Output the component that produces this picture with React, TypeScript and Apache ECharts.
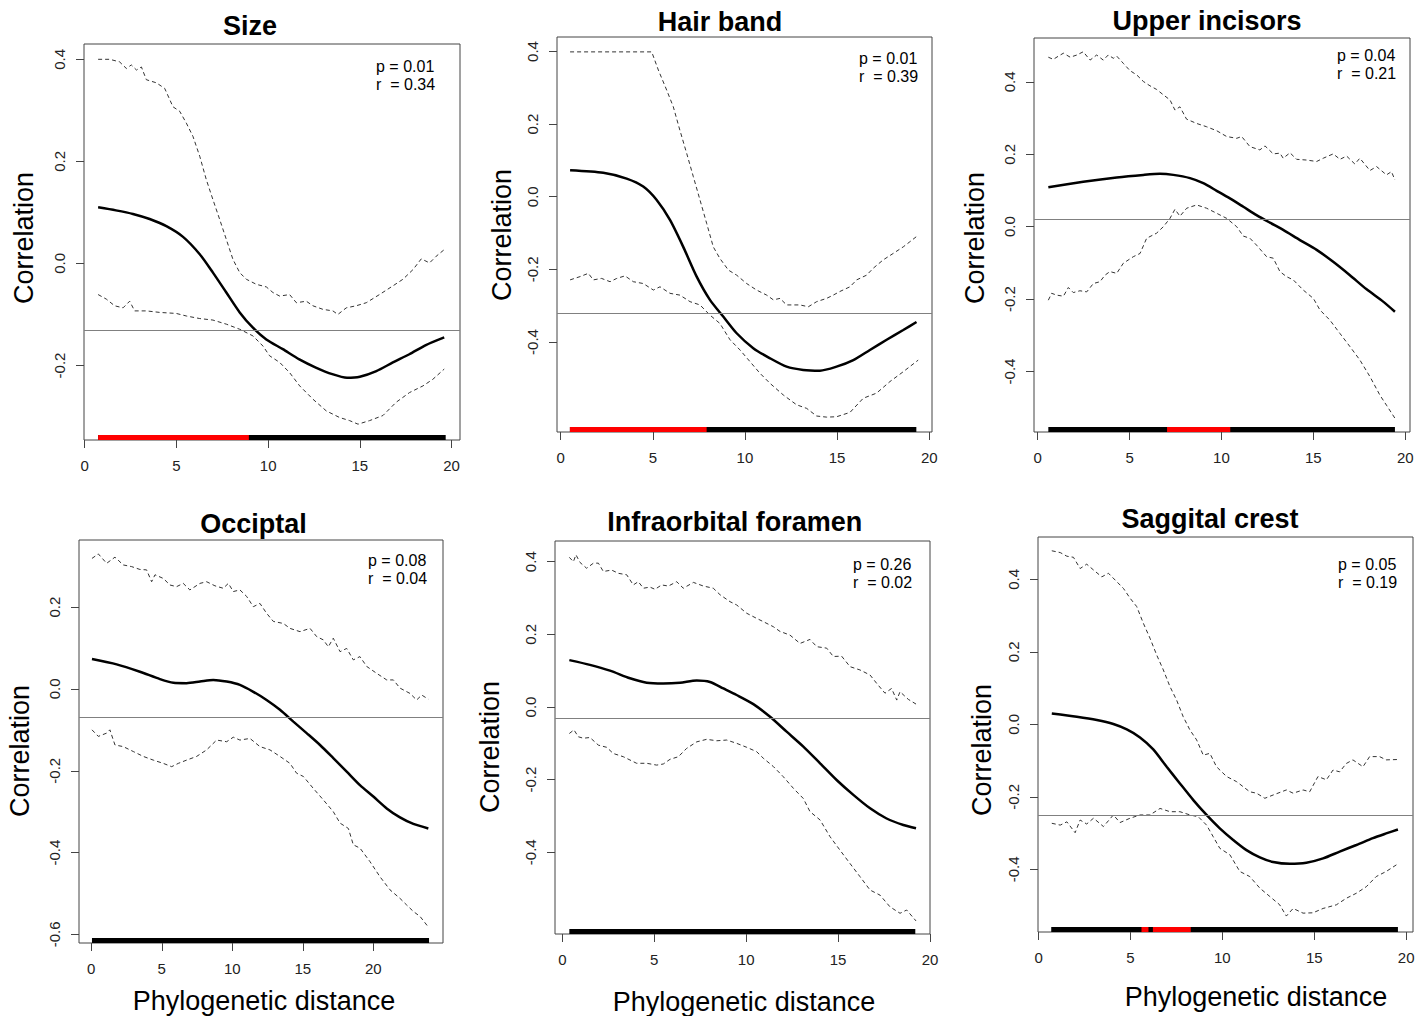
import React, { useEffect, useRef } from "react";
import * as echarts from "echarts";

// ---------------- DATA ----------------
const titles = ["Size", "Hair band", "Upper incisors", "Occiptal", "Infraorbital foramen", "Saggital crest"];
const pValues = ["0.01", "0.01", "0.04", "0.08", "0.26", "0.05"];
const rValues = ["0.34", "0.39", "0.21", "0.04", "0.02", "0.19"];
const refLines = [-0.134, -0.321, 0.02, -0.067, -0.026, -0.247];
const xRanges = [[-0.04, 20.46], [-0.2, 20.15], [-0.2, 20.26], [-0.87, 24.94], [-0.4, 20.0], [-0.03, 20.37]];
const yRanges = [[-0.346, 0.43], [-0.648, 0.44], [-0.567, 0.521], [-0.621, 0.364], [-0.625, 0.457], [-0.573, 0.517]];
const xTicks = [[0, 5, 10, 15, 20], [0, 5, 10, 15, 20], [0, 5, 10, 15, 20], [0, 5, 10, 15, 20], [0, 5, 10, 15, 20], [0, 5, 10, 15, 20]];
const yTicks = [
  [-0.2, 0.0, 0.2, 0.4],
  [-0.4, -0.2, 0.0, 0.2, 0.4],
  [-0.4, -0.2, 0.0, 0.2, 0.4],
  [-0.6, -0.4, -0.2, 0.0, 0.2],
  [-0.4, -0.2, 0.0, 0.2, 0.4],
  [-0.4, -0.2, 0.0, 0.2, 0.4],
];
const distRanges = [[0.73, 19.68], [0.5, 19.3], [0.58, 19.44], [0.05, 23.95], [0.38, 19.2], [0.69, 19.55]];
const sigRanges = [[[0.73, 8.95]], [[0.5, 7.92]], [[7.04, 10.48]], [], [], [[5.6, 5.98], [6.22, 8.28]]];

const sizeMean = [[0.73,0.110],[1.7,0.104],[2.63,0.097],[3.54,0.087],[4.45,0.073],[5.36,0.052],[6.27,0.018],[6.99,-0.018],[7.72,-0.057],[8.45,-0.096],[9.17,-0.126],[9.9,-0.149],[10.8,-0.168],[11.7,-0.188],[12.6,-0.204],[13.5,-0.217],[14.3,-0.224],[15.0,-0.222],[15.9,-0.211],[16.8,-0.194],[17.7,-0.178],[18.6,-0.160],[19.6,-0.145]];
const sizeUpper = [[0.73,0.400],[1.36,0.400],[1.9,0.395],[2.27,0.382],[2.54,0.389],[2.82,0.379],[3.09,0.385],[3.36,0.360],[3.9,0.354],[4.36,0.343],[4.81,0.307],[5.18,0.298],[5.54,0.275],[5.9,0.249],[6.27,0.210],[6.63,0.164],[6.99,0.125],[7.36,0.086],[7.72,0.047],[8.08,0.008],[8.45,-0.018],[8.81,-0.031],[9.36,-0.041],[9.9,-0.046],[10.26,-0.057],[10.63,-0.064],[11.17,-0.061],[11.54,-0.077],[12.08,-0.074],[12.44,-0.083],[12.99,-0.090],[13.53,-0.093],[13.8,-0.100],[14.26,-0.087],[14.8,-0.083],[15.35,-0.077],[16.07,-0.061],[16.8,-0.044],[17.35,-0.031],[17.9,-0.012],[18.35,0.009],[18.8,0.001],[19.16,0.014],[19.6,0.027]];
const sizeLower = [[0.73,-0.061],[1.18,-0.070],[1.63,-0.083],[2.09,-0.087],[2.45,-0.074],[2.72,-0.093],[3.36,-0.093],[4.09,-0.096],[4.99,-0.098],[5.54,-0.103],[6.27,-0.108],[6.99,-0.111],[7.72,-0.119],[8.45,-0.129],[9.17,-0.142],[9.72,-0.162],[10.08,-0.181],[10.63,-0.194],[11.17,-0.214],[11.72,-0.240],[12.44,-0.266],[13.17,-0.289],[13.9,-0.302],[14.44,-0.308],[14.9,-0.315],[15.53,-0.308],[16.26,-0.298],[16.98,-0.272],[17.71,-0.253],[18.44,-0.240],[18.98,-0.227],[19.6,-0.207]];

const hairMean = [[0.51,0.073],[2.31,0.066],[3.58,0.050],[4.48,0.028],[5.21,-0.009],[5.93,-0.064],[6.65,-0.138],[7.38,-0.220],[8.1,-0.284],[8.82,-0.330],[9.55,-0.376],[10.45,-0.417],[11.36,-0.445],[12.26,-0.468],[13.16,-0.477],[14.07,-0.479],[14.97,-0.468],[15.88,-0.450],[16.78,-0.422],[17.69,-0.394],[18.59,-0.367],[19.31,-0.345]];
const hairUpper = [[0.51,0.399],[4.94,0.399],[5.3,0.349],[5.75,0.294],[6.11,0.248],[6.47,0.183],[6.84,0.119],[7.2,0.055],[7.56,-0.009],[7.92,-0.073],[8.28,-0.138],[8.64,-0.170],[9.1,-0.202],[9.55,-0.216],[10.09,-0.239],[10.63,-0.257],[11.18,-0.271],[11.54,-0.284],[11.9,-0.280],[12.26,-0.298],[12.98,-0.298],[13.44,-0.303],[13.89,-0.289],[14.43,-0.280],[14.79,-0.271],[15.15,-0.261],[15.7,-0.248],[16.06,-0.229],[16.6,-0.216],[16.96,-0.197],[17.5,-0.174],[18.05,-0.156],[18.59,-0.138],[18.95,-0.124],[19.4,-0.106]];
const hairLower = [[0.51,-0.229],[1.05,-0.220],[1.5,-0.211],[1.77,-0.229],[2.22,-0.225],[2.68,-0.234],[3.04,-0.225],[3.49,-0.218],[3.94,-0.234],[4.48,-0.239],[5.03,-0.257],[5.39,-0.248],[5.93,-0.266],[6.47,-0.271],[7.02,-0.289],[7.56,-0.298],[8.1,-0.326],[8.64,-0.349],[9.19,-0.394],[9.73,-0.422],[10.27,-0.454],[10.81,-0.486],[11.36,-0.514],[12.08,-0.546],[12.8,-0.573],[13.35,-0.583],[13.89,-0.604],[14.43,-0.607],[14.97,-0.606],[15.7,-0.594],[16.42,-0.555],[17.14,-0.541],[17.87,-0.509],[18.59,-0.482],[19.4,-0.450]];

const incMean = [[0.58,0.109],[2.48,0.124],[4.3,0.136],[5.75,0.143],[6.65,0.146],[7.38,0.143],[8.29,0.134],[9.01,0.120],[9.74,0.099],[10.46,0.078],[11.19,0.055],[11.91,0.032],[12.64,0.011],[13.36,-0.009],[14.27,-0.037],[15.18,-0.064],[16.08,-0.097],[16.99,-0.134],[17.9,-0.173],[18.8,-0.207],[19.44,-0.235]];
const incUpper = [[0.58,0.468],[0.85,0.462],[1.13,0.471],[1.4,0.479],[1.77,0.468],[2.13,0.474],[2.48,0.483],[2.85,0.460],[3.21,0.474],[3.57,0.460],[3.84,0.474],[4.12,0.465],[4.3,0.471],[4.66,0.451],[5.02,0.431],[5.39,0.419],[5.75,0.401],[6.11,0.389],[6.47,0.379],[6.84,0.364],[7.2,0.350],[7.47,0.322],[7.74,0.331],[8.1,0.297],[8.65,0.285],[9.19,0.276],[9.74,0.265],[10.28,0.249],[10.83,0.244],[11.1,0.249],[11.55,0.221],[12.09,0.212],[12.37,0.223],[12.82,0.201],[13.18,0.203],[13.36,0.189],[13.73,0.204],[14.09,0.186],[14.63,0.184],[15.18,0.180],[15.54,0.189],[16.08,0.201],[16.45,0.186],[16.81,0.195],[17.26,0.173],[17.53,0.189],[18.08,0.155],[18.44,0.166],[18.98,0.143],[19.25,0.152],[19.44,0.129]];
const incLower = [[0.58,-0.203],[0.76,-0.184],[1.03,-0.189],[1.4,-0.192],[1.67,-0.168],[1.94,-0.182],[2.3,-0.177],[2.67,-0.180],[3.03,-0.157],[3.39,-0.152],[3.66,-0.134],[3.93,-0.124],[4.3,-0.129],[4.66,-0.101],[5.2,-0.083],[5.57,-0.074],[5.93,-0.032],[6.47,-0.018],[6.84,0.0],[7.2,0.023],[7.47,0.048],[7.74,0.029],[8.11,0.051],[8.65,0.060],[9.19,0.051],[9.74,0.037],[10.28,0.023],[10.83,0.0],[11.19,-0.026],[11.55,-0.032],[11.91,-0.051],[12.46,-0.083],[12.82,-0.087],[13.18,-0.124],[13.54,-0.138],[13.91,-0.147],[14.45,-0.175],[15.0,-0.198],[15.36,-0.230],[15.9,-0.258],[16.45,-0.295],[16.99,-0.331],[17.53,-0.368],[18.08,-0.414],[18.62,-0.465],[18.98,-0.493],[19.44,-0.529]];

const occMean = [[0.05,0.073],[1.8,0.060],[3.45,0.042],[4.87,0.024],[5.82,0.015],[6.76,0.014],[7.71,0.018],[8.65,0.022],[9.6,0.018],[10.54,0.010],[11.49,-0.007],[12.43,-0.027],[13.38,-0.051],[14.33,-0.080],[15.27,-0.108],[16.22,-0.137],[17.16,-0.169],[18.11,-0.202],[19.05,-0.235],[20.0,-0.263],[20.95,-0.292],[21.89,-0.314],[22.84,-0.330],[23.9,-0.341]];
const occUpper = [[0.05,0.319],[0.5,0.330],[1.09,0.307],[1.68,0.322],[2.27,0.303],[2.86,0.299],[3.45,0.292],[3.92,0.291],[4.28,0.262],[4.52,0.279],[5.11,0.270],[5.58,0.254],[6.05,0.250],[6.52,0.258],[6.99,0.242],[7.71,0.258],[8.18,0.262],[8.77,0.252],[9.36,0.246],[9.72,0.258],[10.07,0.238],[10.54,0.242],[11.02,0.226],[11.49,0.201],[11.96,0.209],[12.43,0.185],[12.91,0.165],[13.62,0.160],[14.09,0.148],[14.8,0.140],[15.51,0.148],[15.98,0.128],[16.45,0.120],[16.81,0.103],[17.16,0.124],[17.64,0.091],[18.11,0.099],[18.58,0.071],[19.05,0.079],[19.53,0.055],[20.24,0.038],[20.95,0.022],[21.42,0.022],[21.89,0.002],[22.6,-0.011],[23.07,-0.027],[23.43,-0.015],[23.9,-0.025]];
const occLower = [[0.05,-0.100],[0.5,-0.116],[1.09,-0.108],[1.32,-0.100],[1.68,-0.137],[2.27,-0.141],[2.98,-0.153],[3.69,-0.165],[4.4,-0.174],[5.11,-0.182],[5.7,-0.190],[6.17,-0.182],[6.76,-0.174],[7.47,-0.165],[8.18,-0.149],[8.89,-0.125],[9.6,-0.129],[10.07,-0.118],[10.54,-0.125],[11.25,-0.121],[11.96,-0.141],[12.67,-0.149],[13.38,-0.165],[14.09,-0.182],[14.56,-0.206],[15.04,-0.214],[15.74,-0.243],[16.45,-0.271],[17.16,-0.300],[17.64,-0.328],[18.23,-0.341],[18.58,-0.381],[19.05,-0.389],[19.76,-0.422],[20.47,-0.459],[21.18,-0.491],[21.89,-0.512],[22.36,-0.528],[22.84,-0.544],[23.31,-0.556],[23.9,-0.582]];

const infMean = [[0.38,0.129],[1.5,0.116],[2.59,0.100],[3.68,0.079],[4.59,0.067],[5.49,0.065],[6.4,0.067],[7.31,0.073],[8.03,0.069],[8.76,0.051],[9.48,0.033],[10.39,0.008],[11.3,-0.027],[12.2,-0.068],[13.11,-0.109],[14.02,-0.155],[14.92,-0.201],[15.83,-0.242],[16.74,-0.279],[17.64,-0.307],[18.55,-0.325],[19.24,-0.334]];
const infUpper = [[0.38,0.412],[0.6,0.400],[0.74,0.419],[0.96,0.398],[1.32,0.382],[1.69,0.396],[1.96,0.396],[2.23,0.373],[2.68,0.377],[3.05,0.368],[3.5,0.364],[3.86,0.336],[4.13,0.345],[4.41,0.327],[4.77,0.330],[5.04,0.324],[5.4,0.336],[5.77,0.333],[6.22,0.345],[6.58,0.327],[7.13,0.343],[7.67,0.333],[8.21,0.327],[8.58,0.309],[9.12,0.290],[9.48,0.281],[10.03,0.258],[10.57,0.244],[10.93,0.235],[11.48,0.221],[11.84,0.208],[12.38,0.198],[12.93,0.175],[13.47,0.186],[13.84,0.166],[14.38,0.162],[14.74,0.139],[15.19,0.140],[15.65,0.111],[16.19,0.102],[16.74,0.088],[17.1,0.065],[17.55,0.038],[17.91,0.051],[18.19,0.019],[18.37,0.042],[18.82,0.021],[19.24,0.008]];
const infLower = [[0.38,-0.073],[0.63,-0.063],[0.87,-0.082],[1.14,-0.086],[1.5,-0.084],[1.96,-0.105],[2.41,-0.111],[2.77,-0.128],[3.32,-0.137],[3.68,-0.146],[4.04,-0.155],[4.59,-0.155],[5.13,-0.160],[5.49,-0.157],[5.86,-0.144],[6.31,-0.137],[6.76,-0.114],[7.31,-0.096],[7.85,-0.089],[8.4,-0.093],[8.94,-0.091],[9.48,-0.100],[10.03,-0.111],[10.57,-0.123],[10.93,-0.141],[11.48,-0.164],[12.02,-0.192],[12.57,-0.224],[13.11,-0.252],[13.47,-0.288],[14.02,-0.311],[14.56,-0.357],[15.1,-0.394],[15.65,-0.431],[16.19,-0.467],[16.74,-0.504],[17.28,-0.518],[17.82,-0.550],[18.37,-0.568],[18.73,-0.559],[19.24,-0.589]];

const sagMean = [[0.72,0.030],[2.08,0.021],[3.17,0.012],[4.07,0.001],[4.8,-0.014],[5.52,-0.036],[6.24,-0.069],[6.97,-0.117],[7.69,-0.163],[8.42,-0.209],[9.14,-0.250],[9.86,-0.287],[10.59,-0.319],[11.31,-0.347],[12.04,-0.367],[12.76,-0.380],[13.67,-0.385],[14.57,-0.382],[15.48,-0.370],[16.38,-0.351],[17.29,-0.333],[18.19,-0.314],[18.91,-0.301],[19.55,-0.290]];
const sagUpper = [[0.72,0.479],[1.18,0.474],[1.54,0.464],[1.9,0.461],[2.26,0.430],[2.62,0.442],[2.99,0.426],[3.44,0.407],[3.8,0.417],[4.25,0.394],[4.62,0.375],[4.98,0.348],[5.34,0.325],[5.7,0.279],[6.06,0.238],[6.43,0.191],[6.79,0.150],[7.15,0.104],[7.51,0.067],[7.87,0.021],[8.24,-0.016],[8.6,-0.043],[8.96,-0.085],[9.32,-0.080],[9.68,-0.117],[10.23,-0.144],[10.77,-0.158],[11.13,-0.172],[11.49,-0.186],[11.86,-0.190],[12.31,-0.204],[12.76,-0.195],[13.48,-0.181],[13.85,-0.190],[14.39,-0.181],[14.75,-0.186],[15.2,-0.144],[15.66,-0.153],[16.02,-0.126],[16.38,-0.131],[16.74,-0.108],[17.1,-0.098],[17.65,-0.117],[18.01,-0.089],[18.55,-0.089],[18.91,-0.098],[19.55,-0.097]];
const sagLower = [[0.72,-0.273],[1.18,-0.278],[1.54,-0.269],[1.99,-0.299],[2.26,-0.264],[2.62,-0.275],[2.99,-0.259],[3.53,-0.282],[4.07,-0.250],[4.43,-0.271],[4.98,-0.259],[5.52,-0.250],[6.06,-0.250],[6.61,-0.232],[7.15,-0.241],[7.69,-0.241],[8.24,-0.250],[8.69,-0.255],[9.14,-0.278],[9.5,-0.310],[9.86,-0.342],[10.41,-0.360],[10.95,-0.406],[11.49,-0.420],[12.04,-0.452],[12.58,-0.475],[13.12,-0.498],[13.48,-0.529],[13.85,-0.508],[14.39,-0.521],[14.93,-0.520],[15.48,-0.508],[16.2,-0.498],[16.74,-0.480],[17.29,-0.466],[17.83,-0.448],[18.37,-0.420],[18.91,-0.406],[19.55,-0.385]];

const meanSeries = [sizeMean, hairMean, incMean, occMean, infMean, sagMean];
const upperSeries = [sizeUpper, hairUpper, incUpper, occUpper, infUpper, sagUpper];
const lowerSeries = [sizeLower, hairLower, incLower, occLower, infLower, sagLower];

// ---------------- LAYOUT ----------------
const grids = [
  { left: 84, top: 44, width: 376, height: 396 },
  { left: 557, top: 37, width: 375, height: 395 },
  { left: 1034, top: 38, width: 376, height: 394 },
  { left: 79, top: 540, width: 364, height: 403 },
  { left: 555, top: 541, width: 375, height: 393 },
  { left: 1038, top: 537, width: 375, height: 395 },
];
const titlePos = [[250, 26], [720, 22], [1207, 20.5], [253.5, 523.5], [734.7, 521.5], [1210, 519]];
const yNamePos = [[24, 238], [502, 235], [975, 238], [20, 751], [490, 747], [982, 750]];
const xNamePos = [[264, 1001], [744, 1002], [1256, 997]];
const statPos = [[376, 66], [859, 58], [1337, 55], [368, 560], [853, 564], [1338, 564]];

const FONT = "'Liberation Sans', Arial, sans-serif";

function txt(text: string, x: number, y: number, size: number, opts: any = {}) {
  return {
    type: "text",
    x,
    y,
    rotation: opts.rotation || 0,
    silent: true,
    style: {
      text,
      fill: "#000",
      fontSize: size,
      fontFamily: FONT,
      fontWeight: opts.bold ? "bold" : "normal",
      align: opts.align || "center",
      textAlign: opts.align || "center",
      verticalAlign: "middle",
      textVerticalAlign: "middle",
    },
  };
}

function buildOption() {
  const grid: any[] = [];
  const xAxis: any[] = [];
  const yAxis: any[] = [];
  const series: any[] = [];
  const graphic: any[] = [];

  for (let i = 0; i < 6; i++) {
    const g = grids[i];
    grid.push({ ...g, show: true, borderColor: "#444", borderWidth: 1, backgroundColor: "transparent" });
    xAxis.push({
      type: "value",
      gridIndex: i,
      min: xRanges[i][0],
      max: xRanges[i][1],
      axisLine: { show: false, onZero: false },
      splitLine: { show: false },
      axisTick: { show: true, length: 8, lineStyle: { color: "#444", width: 1 }, customValues: xTicks[i] },
      axisLabel: {
        customValues: xTicks[i],
        margin: 18,
        color: "#222",
        fontSize: 15,
        fontFamily: FONT,
        formatter: (v: number) => String(v),
      },
    });
    yAxis.push({
      type: "value",
      gridIndex: i,
      min: yRanges[i][0],
      max: yRanges[i][1],
      axisLine: { show: false, onZero: false },
      splitLine: { show: false },
      axisTick: { show: true, length: 8, lineStyle: { color: "#444", width: 1 }, customValues: yTicks[i] },
      axisLabel: {
        customValues: yTicks[i],
        margin: 17,
        rotate: 90,
        color: "#222",
        fontSize: 15,
        fontFamily: FONT,
        formatter: (v: number) => v.toFixed(1),
      },
    });

    const common = { xAxisIndex: i, yAxisIndex: i, showSymbol: false, symbol: "none", silent: true, emphasis: { disabled: true }, animation: false };

    series.push({
      ...common,
      type: "line",
      name: titles[i] + " mean",
      data: meanSeries[i],
      smooth: 0.25,
      z: 4,
      lineStyle: { color: "#000", width: 2.5 },
      markLine: {
        silent: true,
        symbol: ["none", "none"],
        animation: false,
        label: { show: false },
        lineStyle: { color: "#808080", width: 1, type: "solid" },
        data: [{ yAxis: refLines[i] }],
      },
    });
    series.push({
      ...common,
      type: "line",
      name: titles[i] + " upper",
      data: upperSeries[i],
      z: 3,
      lineStyle: { color: "#333", width: 1, type: [4, 3] },
    });
    series.push({
      ...common,
      type: "line",
      name: titles[i] + " lower",
      data: lowerSeries[i],
      z: 3,
      lineStyle: { color: "#333", width: 1, type: [4, 3] },
    });

    const yr = yRanges[i];
    const barY = yr[0] + (2.5 * (yr[1] - yr[0])) / g.height;
    series.push({
      ...common,
      type: "line",
      name: titles[i] + " range",
      data: [[distRanges[i][0], barY], [distRanges[i][1], barY]],
      z: 5,
      lineStyle: { color: "#000", width: 5, cap: "butt" },
    });
    sigRanges[i].forEach((s, k) => {
      series.push({
        ...common,
        type: "line",
        name: titles[i] + " significant " + k,
        data: [[s[0], barY], [s[1], barY]],
        z: 6,
        lineStyle: { color: "#ff0000", width: 5, cap: "butt" },
      });
    });

    graphic.push(txt(titles[i], titlePos[i][0], titlePos[i][1], 27, { bold: true }));
    graphic.push(txt("Correlation", yNamePos[i][0], yNamePos[i][1], 27, { rotation: Math.PI / 2 }));
    graphic.push(txt("p = " + pValues[i], statPos[i][0], statPos[i][1], 16, { align: "left" }));
    graphic.push(txt("r \u00A0= " + rValues[i], statPos[i][0], statPos[i][1] + 18.5, 16, { align: "left" }));
  }
  xNamePos.forEach((p) => graphic.push(txt("Phylogenetic distance", p[0], p[1], 27)));

  return {
    animation: false,
    backgroundColor: "#fff",
    grid,
    xAxis,
    yAxis,
    series,
    graphic: { elements: graphic },
  };
}

export default function App() {
  const ref = useRef<HTMLDivElement>(null);
  useEffect(() => {
    document.body.style.margin = "0";
    if (!ref.current) return;
    const chart = echarts.init(ref.current, null, { renderer: "svg" });
    chart.setOption(buildOption() as any);
    return () => chart.dispose();
  }, []);
  return <div ref={ref} style={{ width: 1424, height: 1016 }} />;
}
